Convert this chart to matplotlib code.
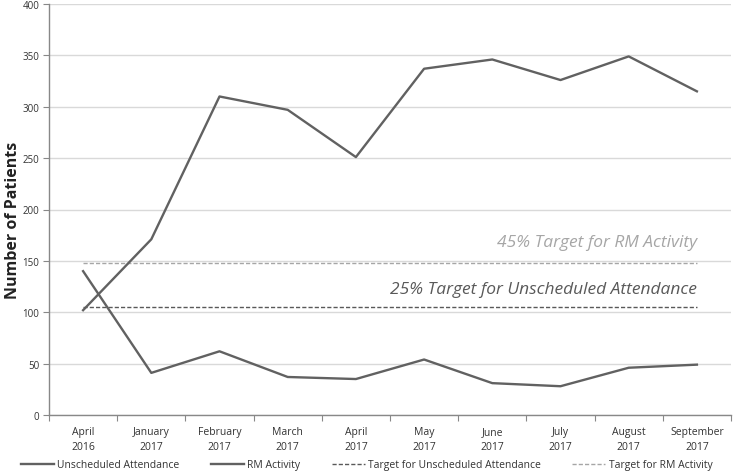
import numpy as np
import matplotlib.pyplot as plt

# data
months = ["April\n2016", "January\n2017", "February\n2017", "March\n2017", "April\n2017",
          "May\n2017", "June\n2017", "July\n2017", "August\n2017", "September\n2017"]
unscheduled = [140, 41, 62, 37, 35, 54, 31, 28, 46, 49]
rm_activity = [102, 171, 310, 297, 251, 337, 346, 326, 349, 315]
target_unscheduled = 105
target_rm = 148

plt.rcParams['font.family'] = ['Open Sans', 'DejaVu Sans']

LINE = '#616161'
DARK = '#595959'
LIGHT = '#a6a6a6'
GRID = '#d9d9d9'

fig = plt.figure(figsize=(7.33, 4.77), dpi=100)
ax = fig.add_axes([49 / 733, 1 - 416 / 477, (731 - 49) / 733, (416 - 5) / 477])

x = np.arange(len(months))
ax.plot(x, unscheduled, color=LINE, lw=1.7, label='Unscheduled Attendance', zorder=4)
ax.plot(x, rm_activity, color=LINE, lw=1.7, label='RM Activity', zorder=4)
ax.plot(x, [target_unscheduled] * len(x), color=DARK, lw=1.0, ls=(0, (3, 1.5)),
        label='Target for Unscheduled Attendance', zorder=3)
ax.plot(x, [target_rm] * len(x), color=LIGHT, lw=1.0, ls=(0, (3, 1.5)),
        label='Target for RM Activity', zorder=3)

ax.text(x[-1], target_rm + 13, '45% Target for RM Activity', color=LIGHT,
        fontsize=12.5, style='italic', ha='right', va='bottom')
ax.text(x[-1], target_unscheduled + 10, '25% Target for Unscheduled Attendance', color=DARK,
        fontsize=12.5, style='italic', ha='right', va='bottom')

ax.set_xlim(-0.5, len(months) - 0.5)
ax.set_ylim(0, 400)
ax.set_yticks(np.arange(0, 401, 50))
ax.yaxis.grid(True, color=GRID, lw=1.0)
ax.set_axisbelow(True)

ax.set_xticks(np.arange(len(months) + 1) - 0.5)
ax.set_xticklabels([])
ax.set_xticks(x, minor=True)
ax.set_xticklabels(months, minor=True, fontsize=7.5, color='#333333', linespacing=1.5)
ax.tick_params(axis='x', which='major', length=4, color='#888888')
ax.tick_params(axis='x', which='minor', length=0, pad=8)
ax.tick_params(axis='y', length=4, color='#888888', labelsize=7, labelcolor='#333333', pad=3)

for side in ['top', 'right']:
    ax.spines[side].set_visible(False)
for side in ['left', 'bottom']:
    ax.spines[side].set_color('#888888')
    ax.spines[side].set_linewidth(1.0)

ax.set_ylabel('Number of Patients', fontsize=11.5, fontweight='bold', color='#222222', va='center')
ax.yaxis.set_label_coords(-0.053, 0.477)

fig.legend(loc='center', bbox_to_anchor=(0.5, 1 - 466 / 477), ncol=4, frameon=False,
           fontsize=7.5, handlelength=3.2, handletextpad=0.3, columnspacing=3.0,
           labelcolor='#333333')

fig.savefig('out.png', dpi=100)
